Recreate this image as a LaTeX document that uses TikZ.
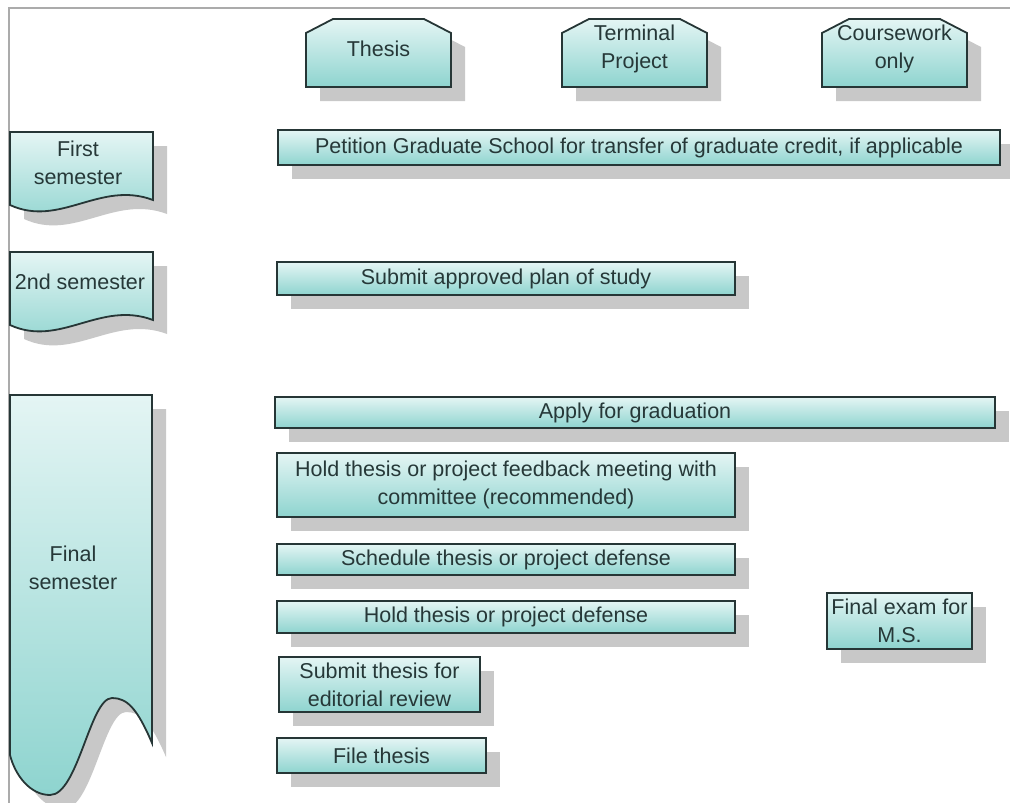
\documentclass[tikz,border=0pt]{standalone}
\usepackage{fontspec}
\setmainfont{Liberation Sans}
\usetikzlibrary{shadows}

\definecolor{boxtop}{HTML}{E4F5F4}
\definecolor{boxbottom}{HTML}{8ED4CF}
\definecolor{boxline}{HTML}{263636}
\definecolor{boxink}{HTML}{263838}
\definecolor{shadowgray}{HTML}{C8C8C8}
\definecolor{framegray}{HTML}{ABABAB}

\begin{document}
\begin{tikzpicture}[x=1pt,y=-1pt,
  box/.style={draw=boxline, line width=1.8pt, top color=boxtop, bottom color=boxbottom,
    text=boxink, font=\fontsize{21.5}{28}\selectfont, align=center, inner sep=0pt,
    drop shadow={shadow xshift=14pt, shadow yshift=-14pt, fill=shadowgray, opacity=1}},
  txt/.style={text=boxink, font=\fontsize{21.5}{28}\selectfont, align=center, inner sep=0pt},
]
 \useasboundingbox (0,0) rectangle (1010,803);
 \fill[white] (0,0) rectangle (1010,803);
 \draw[framegray, line width=2pt] (1010,8) -- (9,8) -- (9,803);

 % plan types
 \foreach \xl/\nm/\txt in {306/thesis/Thesis, 562/terminal/{Terminal\\Project}, 822/coursework/{Coursework\\only}}{
   \path[box] (\xl,87) -- (\xl,33) -- ++(27,-14) -- ++(91,0) -- ++(27,14) -- (\xl+145,87) -- cycle;
   \node[txt] (\nm) at (\xl+72.5,49) {\txt};
 }

 % semesters
 \path[box] (10,132) -- (153,132) -- (153,200) .. controls (100,180) and (60,228) .. (10,205) -- cycle;
 \node[txt] (first) at (78,163) {First\\semester};
 \path[box] (10,252) -- (153,252) -- (153,320) .. controls (100,300) and (60,348) .. (10,325) -- cycle;
 \node[txt] (second) at (80,282) {2nd semester};
 \path[box] (10,395) -- (152,395) -- (152,743) .. controls (137,708) and (127,698) .. (112,698)
   .. controls (90,698) and (78,795) .. (50,795) .. controls (30,795) and (15,775) .. (10,755) -- cycle;
 \node[txt] (final) at (73,568) {Final\\semester};

 % tasks
 \node[box, minimum width=722pt, minimum height=35pt] (petition) at (639,147.5) {Petition Graduate School for transfer of graduate credit, if applicable};
 \node[box, minimum width=458pt, minimum height=33pt] (plan) at (506,278.5) {Submit approved plan of study};
 \node[box, minimum width=720pt, minimum height=31pt] (apply) at (635,412.5) {Apply for graduation};
 \node[box, minimum width=458pt, minimum height=64pt] (feedback) at (506,485) {Hold thesis or project feedback meeting with\\committee (recommended)};
 \node[box, minimum width=458pt, minimum height=31pt] (schedule) at (506,559.5) {Schedule thesis or project defense};
 \node[box, minimum width=458pt, minimum height=32pt] (defense) at (506,617) {Hold thesis or project defense};
 \node[box, minimum width=201pt, minimum height=55pt] (editorial) at (379.5,684.5) {Submit thesis for\\editorial review};
 \node[box, minimum width=209pt, minimum height=35pt] (file) at (381.5,755.5) {File thesis};
 \node[box, minimum width=145pt, minimum height=56pt] (exam) at (899.5,621) {Final exam for\\M.S.};

\end{tikzpicture}
\end{document}
